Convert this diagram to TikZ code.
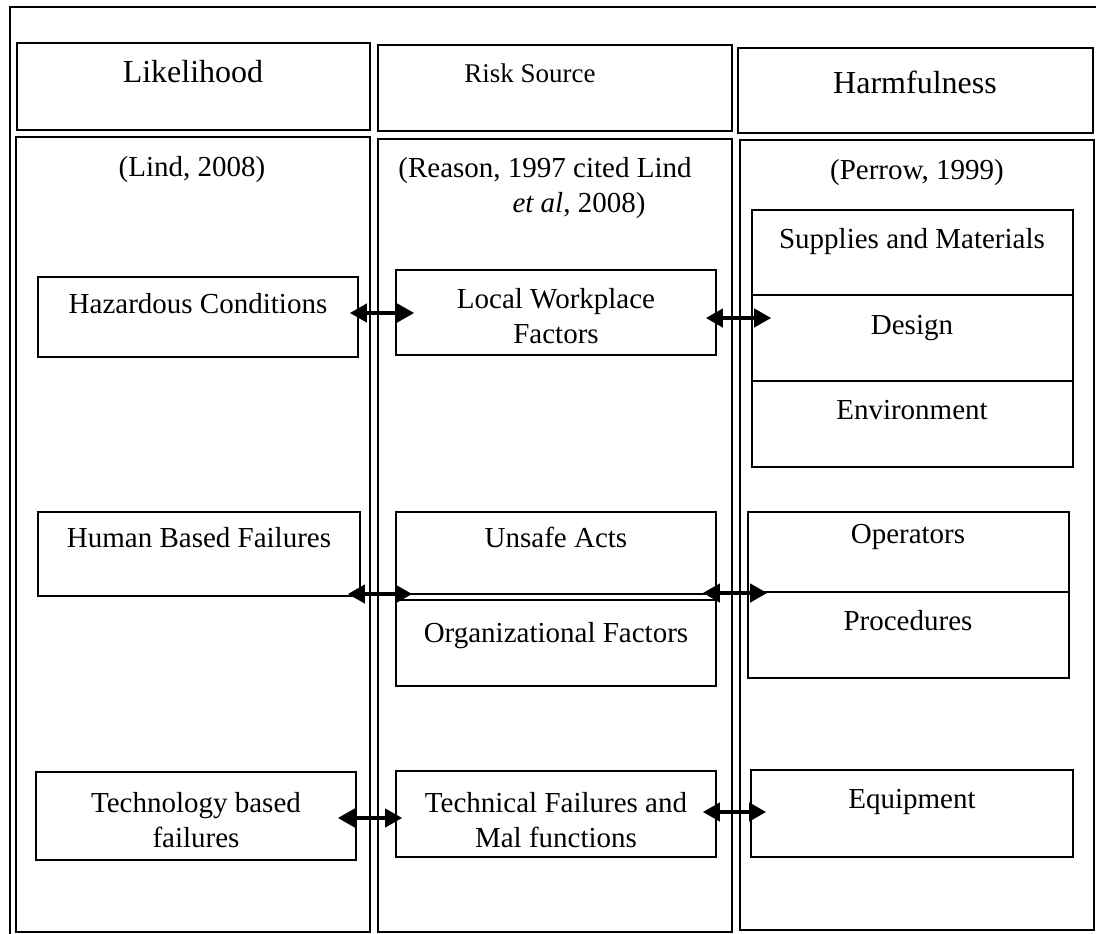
\documentclass[tikz,border=0pt]{standalone}
\usepackage{fontspec}
\setmainfont{Liberation Serif}
\usetikzlibrary{arrows.meta,fit,calc}
\begin{document}
\begin{tikzpicture}[x=1pt,y=-1pt,
  box/.style={draw, line width=1.6pt, inner sep=0pt},
  frame/.style={draw, line width=2.4pt},
  txt/.style={font=\fontsize{29}{35}\selectfont, anchor=base, inner sep=0pt},
  head/.style={font=\fontsize{32}{38}\selectfont, anchor=base, inner sep=0pt},
  small/.style={font=\fontsize{27}{32}\selectfont, anchor=base, inner sep=0pt},
  link/.style={line width=3.8pt,
    {Triangle[length=17pt,width=18pt]}-{Triangle[length=17pt,width=18pt]}}
]
\useasboundingbox (0,0) rectangle (1096,934);

% outer frame, running off the page on the right and at the bottom
\begin{scope}
  \clip (0,0) rectangle (1096,934);
  \draw[frame] (10,7) rectangle (1130,970);
\end{scope}

% column headings
\node[box, fit={(17,43) (370,130)}] (hL) {};
\node[box, fit={(378,45) (732,131)}] (hR) {};
\node[box, fit={(738,48) (1093,133)}] (hH) {};
\node[head]  (tL) at (193,83) {Likelihood};
\node[small] (tR) at (530,82) {Risk Source};
\node[head]  (tH) at (915,93) {Harmfulness};

% column bodies
\node[box, fit={(16,137) (370,932)}] (cL) {};
\node[box, fit={(378,139) (732,932)}] (cR) {};
\node[box, fit={(740,140) (1094,930)}] (cH) {};
\node[txt] (sL) at (192,176) {(Lind, 2008)};
\node[txt] (sR1) at (545,177) {(Reason, 1997 cited Lind};
\node[txt] (sR2) at (579,212) {\textit{et al}, 2008)};
\node[txt] (sH) at (917,179) {(Perrow, 1999)};

% likelihood items
\node[box, fit={(38,277) (358,357)}] (haz) {};
\node[txt] (thaz) at (198,313) {Hazardous Conditions};
\node[box, fit={(38,512) (360,596)}] (hum) {};
\node[txt] (thum) at (199,547) {Human Based Failures};
\node[box, fit={(36,772) (356,860)}] (tec) {};
\node[txt] (ttec1) at (196,812) {Technology based};
\node[txt] (ttec2) at (196,847) {failures};

% risk source items
\node[box, fit={(396,270) (716,355)}] (lwf) {};
\node[txt] (tlwf1) at (556,308) {Local Workplace};
\node[txt] (tlwf2) at (556,343) {Factors};
\node[box, fit={(396,512) (716,594)}] (uns) {};
\node[txt] (tuns) at (556,547) {Unsafe Acts};
\node[box, fit={(396,600) (716,686)}] (org) {};
\node[txt] (torg) at (556,642) {Organizational Factors};
\node[box, fit={(396,771) (716,857)}] (tfm) {};
\node[txt] (ttfm1) at (556,812) {Technical Failures and};
\node[txt] (ttfm2) at (556,847) {Mal functions};

% harmfulness items
\node[box, fit={(752,210) (1073,295)}] (sup) {};
\node[box, fit={(752,295) (1073,381)}] (des) {};
\node[box, fit={(752,381) (1073,467)}] (env) {};
\node[txt] (tsup) at (912,248) {Supplies and Materials};
\node[txt] (tdes) at (912,334) {Design};
\node[txt] (tenv) at (912,419) {Environment};
\node[box, fit={(748,512) (1069,592)}] (ops) {};
\node[box, fit={(748,592) (1069,678)}] (pro) {};
\node[txt] (tops) at (908,543) {Operators};
\node[txt] (tpro) at (908,630) {Procedures};
\node[box, fit={(751,770) (1073,857)}] (equ) {};
\node[txt] (tequ) at (912,808) {Equipment};

% two-way links between the columns
\draw[link] ($(haz.east)+(-9,-4)$) -- ($(lwf.west)+(19,0.5)$);
\draw[link] ($(lwf.east)+(-11,5.5)$) -- ($(des.west)+(20,-20)$);
\draw[link] ($(hum.east)+(-13,40)$) -- ($(uns.west)+(17,41)$);
\draw[link] ($(uns.east)+(-14,40)$) -- ($(ops.west)+(20,41)$);
\draw[link] ($(tec.east)+(-19,2)$) -- ($(tfm.west)+(7,4)$);
\draw[link] ($(tfm.east)+(-14,-2)$) -- ($(equ.west)+(16,-1.5)$);
\end{tikzpicture}
\end{document}
